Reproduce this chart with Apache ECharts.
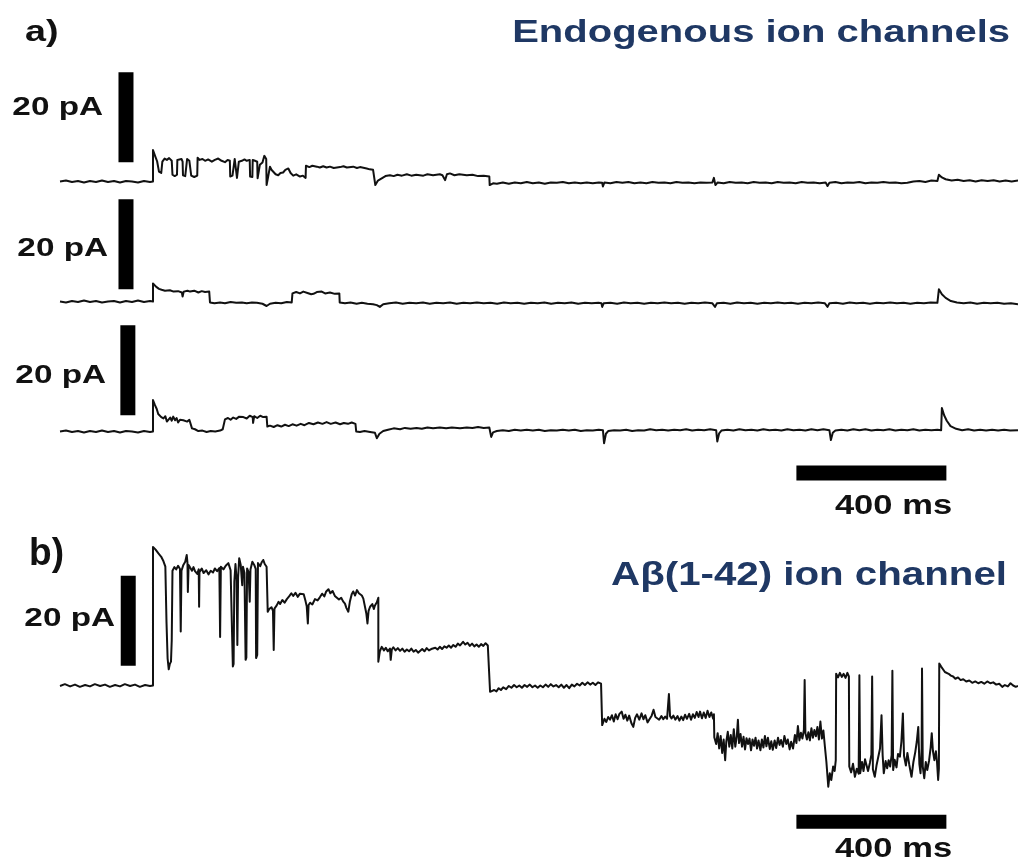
<!DOCTYPE html>
<html>
<head>
<meta charset="utf-8">
<title>Single channel recordings</title>
<script src="https://cdn.jsdelivr.net/npm/echarts@6/dist/echarts.min.js"></script>
<style>
  html, body { margin: 0; padding: 0; background: #fff; }
  #chart { width: 1018px; height: 867px; }
</style>
</head>
<body>
<div id="chart"></div>
<script>
// time in ms from start of sweep, current in pA above the closed level
// (a repeated time value is a step)
var traceA1 = [
    [0, 0], [16, 0.2], [32, -0.1], [48, 0.1], [64, -0.2], [80, 0.1], [96, -0.1], [112, 0.2], [128, -0.1], [144, 0.1],
    [160, -0.2], [176, 0.1], [192, 0], [208, -0.2], [224, 0.1], [240, -0.1], [248, 0],
    [248, 7.0], [254, 5.6], [259, 4.5], [262, 4.8], [264, 2.2], [270, 1.9], [272, 2.1], [273, 4.4], [279, 5.1], [285, 4.8],
    [291, 5.2], [298, 4.6], [300, 1.5], [306, 1.2], [312, 1.5], [313, 4.8], [318, 4.6], [324, 5.0], [327, 4.4], [328, 1.4],
    [334, 1.2], [338, 1.4], [339, 5.0], [345, 4.6], [349, 4.8], [350, 1.3], [358, 1.0], [366, 1.3], [367, 5.3], [372, 4.8],
    [380, 5.0], [387, 4.6], [395, 4.9], [405, 4.4], [413, 4.8], [422, 5.1], [431, 4.6], [440, 4.3], [447, 4.8], [453, 4.6],
    [454, 1.1], [460, 1.3], [465, 1.1], [466, 5.0], [471, 4.8], [472, 0.8], [476, 1.0], [477, 4.4], [485, 4.6], [492, 4.9],
    [498, 4.6], [506, 4.8], [507, 1.1], [513, 1.0], [514, 4.8], [520, 4.6], [526, 4.4], [527, 0.7], [531, 0.9], [533, 3.7],
    [540, 4.2], [545, 5.7], [550, 5.0], [551, -0.8], [555, 1.0], [560, 3.3], [564, 2.6], [569, 2.2], [575, 1.6], [582, 1.4],
    [588, 1.9], [595, 2.0], [601, 2.6], [609, 2.9], [615, 1.9], [622, 1.3], [630, 1.6], [640, 1.1], [648, 1.3], [655, 0.8],
    [656, 3.5], [665, 3.2], [673, 3.5], [685, 3.3], [693, 3.1], [702, 3.4], [711, 3.1], [720, 3.3], [730, 3.0], [747, 3.2],
    [756, 3.4], [765, 3.1], [782, 3.3], [792, 3.0], [800, 3.2], [818, 2.9], [826, 2.7], [835, 2.6], [840, 2.4], [841, -0.8],
    [848, 0.2], [858, 0.7], [868, 1.2], [880, 1.4], [890, 1.2], [900, 1.5], [912, 1.3], [925, 1.6], [937, 1.3], [950, 1.5],
    [969, 1.3], [980, 1.6], [995, 1.4], [1013, 1.6], [1020, 1.4], [1027, 0.3], [1032, 1.6], [1040, 1.8], [1052, 1.4],
    [1065, 1.6], [1085, 1.4], [1100, 1.5], [1115, 1.2], [1130, 1.3], [1145, 1.1], [1146, -0.8], [1155, -0.4], [1165, -0.5],
    [1181, -0.2], [1197, -0.5], [1213, -0.2], [1229, -0.4], [1245, -0.1], [1261, -0.4], [1277, -0.2], [1293, -0.5],
    [1309, -0.2], [1325, -0.3], [1341, -0.1], [1357, -0.4], [1373, -0.2], [1389, -0.4], [1405, -0.2], [1421, -0.4],
    [1437, -0.2], [1446, -0.3], [1448, -1.1], [1452, -0.2], [1468, -0.4], [1484, -0.1], [1500, -0.3], [1516, -0.1],
    [1532, -0.4], [1548, -0.2], [1564, -0.4], [1580, -0.1], [1596, -0.3], [1612, -0.2], [1628, -0.4], [1644, -0.1],
    [1660, -0.3], [1676, -0.2], [1692, -0.4], [1708, -0.2], [1724, -0.3], [1740, -0.2], [1744, 0.8], [1748, -0.8],
    [1754, -0.2], [1770, -0.4], [1786, -0.1], [1802, -0.3], [1818, -0.2], [1834, -0.4], [1850, -0.1], [1866, -0.3],
    [1882, -0.2], [1898, -0.4], [1914, -0.1], [1930, -0.3], [1946, -0.2], [1962, -0.4], [1978, -0.1], [1994, -0.3],
    [2010, -0.2], [2026, -0.4], [2042, -0.2], [2047, -1.0], [2052, -0.3], [2068, -0.1], [2084, -0.4], [2100, -0.2],
    [2116, -0.3], [2132, -0.1], [2148, -0.4], [2164, -0.2], [2180, -0.3], [2196, -0.1], [2212, -0.3], [2228, -0.2],
    [2244, -0.4], [2260, -0.3], [2276, 0.0], [2292, 0.1], [2308, -0.1], [2324, 0.2], [2340, 0.1], [2344, 1.5], [2352, 0.9],
    [2362, 0.5], [2378, 0.2], [2394, 0.4], [2410, 0.1], [2426, 0.3], [2442, 0.0], [2458, 0.3], [2474, 0.1], [2490, 0.3],
    [2506, 0.0], [2522, 0.2], [2538, 0.0], [2555, 0.2]
];

var traceA2 = [
    [0, 0], [16, -0.2], [32, 0.1], [48, -0.1], [64, 0.2], [80, -0.1], [96, 0.1], [112, -0.2], [128, 0], [144, 0.1],
    [160, -0.2], [176, 0.1], [192, -0.1], [208, 0.2], [224, -0.1], [240, 0.1], [248, 0],
    [248, 4.0], [256, 3.3], [264, 2.8], [271, 2.6], [280, 2.4], [293, 2.5], [303, 2.2], [315, 2.3], [325, 2.0], [327, 1.1],
    [330, 2.2], [340, 2.4], [347, 2.2], [358, 2.4], [369, 2.0], [378, 2.3], [387, 2.1], [398, 2.2], [400, -0.2], [412, -0.4],
    [427, -0.2], [440, -0.4], [455, -0.1], [470, -0.3], [485, -0.2], [498, -0.4], [512, -0.2], [525, -0.3], [540, -0.5],
    [551, -1.0], [560, -0.5], [575, -0.3], [590, -0.4], [605, -0.1], [618, -0.2], [620, 1.8], [630, 2.1], [640, 1.8],
    [649, 2.2], [660, 1.9], [670, 1.6], [676, 1.7], [685, 2.1], [698, 2.2], [707, 1.8], [720, 2.0], [733, 1.7], [745, 1.8],
    [746, -0.2], [760, -0.4], [775, -0.2], [791, -0.5], [805, -0.3], [820, -0.5], [835, -0.6], [845, -0.8], [853, -1.2],
    [862, -0.6], [878, -0.4], [896, -0.2], [914, -0.5], [932, -0.3], [950, -0.4], [968, -0.2], [986, -0.5], [1004, -0.3],
    [1022, -0.4], [1040, -0.2], [1058, -0.5], [1076, -0.3], [1094, -0.4], [1112, -0.2], [1130, -0.4], [1148, -0.3],
    [1166, -0.5], [1184, -0.2], [1202, -0.4], [1220, -0.3], [1238, -0.5], [1256, -0.3], [1274, -0.4], [1292, -0.2],
    [1310, -0.5], [1328, -0.3], [1346, -0.4], [1364, -0.2], [1382, -0.5], [1400, -0.3], [1418, -0.4], [1436, -0.3],
    [1444, -0.4], [1446, -1.2], [1450, -0.4], [1468, -0.3], [1486, -0.5], [1504, -0.2], [1522, -0.4], [1540, -0.3],
    [1558, -0.5], [1576, -0.3], [1594, -0.4], [1612, -0.2], [1630, -0.4], [1648, -0.3], [1666, -0.5], [1684, -0.3],
    [1702, -0.4], [1720, -0.2], [1740, -0.4], [1747, -1.2], [1752, -0.4], [1770, -0.3], [1788, -0.5], [1806, -0.2],
    [1824, -0.4], [1842, -0.3], [1860, -0.5], [1878, -0.3], [1896, -0.4], [1914, -0.2], [1932, -0.4], [1950, -0.3],
    [1968, -0.5], [1986, -0.3], [2004, -0.4], [2022, -0.2], [2040, -0.4], [2047, -1.2], [2052, -0.4], [2070, -0.3],
    [2088, -0.5], [2106, -0.2], [2124, -0.4], [2142, -0.3], [2160, -0.5], [2178, -0.3], [2196, -0.4], [2214, -0.2],
    [2232, -0.4], [2250, -0.3], [2268, -0.5], [2286, -0.3], [2304, -0.4], [2322, -0.2], [2340, -0.3], [2344, 2.7],
    [2352, 1.6], [2362, 0.8], [2376, 0.1], [2392, -0.2], [2410, -0.4], [2428, -0.2], [2446, -0.5], [2464, -0.3],
    [2482, -0.4], [2500, -0.3], [2518, -0.5], [2536, -0.4], [2555, -0.6]
];

var traceA3 = [
    [0, 0], [16, 0.2], [32, -0.1], [48, 0.1], [64, -0.2], [80, 0.1], [96, -0.1], [112, 0.2], [128, -0.1], [144, 0.1],
    [160, -0.2], [176, 0.1], [192, 0], [208, -0.2], [224, 0.1], [240, -0.1], [248, 0],
    [248, 7.0], [253, 5.9], [258, 5.0], [262, 3.9], [266, 3.9], [270, 3.2], [276, 2.9], [281, 3.4], [285, 2.2], [289, 2.6],
    [294, 3.1], [298, 2.4], [302, 3.3], [307, 2.5], [311, 3.0], [315, 2.0], [320, 2.6], [325, 3.0], [329, 2.5], [334, 2.9],
    [339, 2.2], [345, 2.6], [350, 2.4], [352, 0.7], [360, 0.5], [369, 0.1], [380, 0.2], [391, -0.1], [402, 0.1], [414, 0],
    [427, 0.2], [434, 0.5], [437, 0.7], [440, 2.7], [448, 3.0], [455, 2.6], [462, 3.1], [470, 2.8], [478, 3.3], [489, 3.2],
    [498, 2.9], [506, 3.5], [514, 3.2], [515, 1.9], [518, 3.4], [526, 3.0], [534, 3.5], [542, 3.2], [551, 3.3], [553, 1.1],
    [560, 1.3], [570, 1.0], [580, 1.4], [590, 1.1], [600, 1.5], [610, 1.2], [620, 1.6], [631, 1.3], [642, 1.7], [652, 1.4],
    [664, 1.9], [676, 1.6], [688, 2.0], [700, 1.7], [711, 2.1], [722, 1.7], [735, 2.0], [747, 1.6], [757, 1.9], [768, 1.7],
    [778, 2.0], [788, 1.7], [790, 0], [800, -0.1], [812, 0.1], [827, -0.1], [840, -0.3], [845, -1.5], [852, -0.5],
    [862, 0.1], [875, 0.4], [890, 0.7], [907, 0.5], [920, 0.8], [935, 0.6], [951, 0.8], [965, 0.6], [980, 0.9], [995, 0.7],
    [1013, 0.9], [1030, 0.7], [1045, 0.9], [1067, 0.7], [1085, 0.9], [1100, 0.8], [1115, 1.0], [1130, 0.8], [1145, 0.9],
    [1150, -1.2], [1155, -0.2], [1165, 0.1], [1181, 0.3], [1197, 0.1], [1213, 0.4], [1229, 0.2], [1245, 0.4], [1261, 0.2],
    [1277, 0.4], [1293, 0.1], [1309, 0.3], [1325, 0.2], [1341, 0.4], [1357, 0.2], [1373, 0.4], [1389, 0.1], [1405, 0.3],
    [1421, 0.2], [1437, 0.4], [1448, 0.3], [1451, -2.6], [1456, -0.5], [1462, 0.1], [1478, 0.3], [1494, 0.2], [1510, 0.4],
    [1526, 0.1], [1542, 0.3], [1558, 0.2], [1574, 0.5], [1590, 0.3], [1606, 0.4], [1622, 0.2], [1638, 0.4], [1654, 0.3],
    [1670, 0.5], [1686, 0.2], [1702, 0.4], [1718, 0.3], [1734, 0.5], [1750, 0.3], [1753, -2.2], [1758, -0.4], [1764, 0.2],
    [1780, 0.4], [1796, 0.2], [1812, 0.5], [1828, 0.3], [1844, 0.4], [1860, 0.2], [1876, 0.5], [1892, 0.3], [1908, 0.4],
    [1924, 0.2], [1940, 0.5], [1956, 0.3], [1972, 0.4], [1988, 0.2], [2004, 0.5], [2020, 0.3], [2036, 0.5], [2052, 0.3],
    [2056, -1.9], [2061, -0.3], [2068, 0.2], [2084, 0.4], [2100, 0.2], [2116, 0.5], [2132, 0.3], [2148, 0.5], [2164, 0.2],
    [2180, 0.4], [2196, 0.3], [2212, 0.5], [2228, 0.2], [2244, 0.4], [2260, 0.3], [2276, 0.5], [2292, 0.2], [2308, 0.4],
    [2324, 0.3], [2340, 0.4], [2350, 0.3], [2352, 5.2], [2358, 3.6], [2365, 2.4], [2375, 1.2], [2390, 0.6], [2406, 0.3],
    [2422, 0.5], [2438, 0.2], [2454, 0.4], [2470, 0.2], [2486, 0.4], [2502, 0.2], [2518, 0.4], [2534, 0.2], [2555, 0.3]
];

var traceB = [
    [0, -0.1], [13, 0.3], [27, -0.2], [40, 0.2], [53, -0.3], [67, 0.1], [80, -0.2], [93, 0.3], [107, -0.1], [120, 0.2],
    [133, -0.3], [147, 0.1], [160, -0.2], [173, 0.3], [187, -0.1], [200, 0.2], [213, -0.3], [227, 0.1], [240, -0.1], [248, 0],
    [248, 30.8], [255, 30.2], [262, 29.4], [270, 28.6], [276, 27.6], [281, 26.4], [284, 14.2], [287, 6.0], [290, 3.6],
    [293, 4.8], [296, 5.3], [298, 10.0], [300, 25.5], [305, 26.3], [310, 25.8], [315, 26.6], [320, 25.9], [322, 12.0],
    [324, 25.5], [329, 26.8], [334, 27.5], [338, 29.0], [340, 27.2], [341, 20.8], [343, 26.8], [347, 26.2], [352, 25.5],
    [356, 26.3], [360, 25.4], [366, 24.8], [370, 25.8], [371, 17.5], [372, 25.2], [378, 26.0], [383, 25.0], [390, 25.6],
    [396, 24.7], [402, 25.5], [408, 25.1], [413, 26.0], [419, 25.4], [425, 26.1], [427, 10.8], [429, 26.4], [436, 25.8],
    [442, 26.6], [449, 27.2], [455, 25.6], [458, 25.3], [461, 4.2], [463, 4.8], [465, 23.1], [468, 27.0], [471, 23.5],
    [473, 9.0], [475, 24.0], [478, 28.3], [482, 26.8], [486, 22.3], [488, 26.4], [492, 25.0], [495, 5.7], [497, 6.2],
    [499, 26.0], [503, 25.2], [506, 18.6], [508, 25.8], [513, 27.5], [518, 26.8], [522, 25.9], [523, 6.1], [526, 6.8],
    [528, 27.2], [534, 26.5], [538, 27.4], [542, 27.9], [546, 27.0], [551, 26.4], [553, 26.8], [554, 16.4], [558, 17.0],
    [564, 17.4], [568, 16.6], [570, 7.9], [572, 17.1], [578, 17.8], [583, 18.6], [587, 18.1], [593, 19.0], [599, 18.4],
    [605, 19.2], [611, 19.8], [617, 20.5], [622, 19.9], [628, 20.6], [634, 19.7], [640, 20.4], [645, 20.0], [650, 20.3],
    [655, 18.7], [658, 17.6], [661, 13.8], [663, 17.9], [667, 18.4], [673, 18.0], [680, 19.2], [687, 18.9], [693, 19.6],
    [699, 20.4], [705, 19.8], [710, 20.9], [716, 21.4], [721, 20.5], [727, 21.0], [733, 19.9], [738, 20.0], [744, 19.1],
    [750, 19.5], [755, 18.7], [760, 18.2], [764, 17.2], [769, 16.4], [773, 18.6], [778, 20.3], [782, 20.9], [787, 20.0],
    [792, 21.2], [797, 20.5], [800, 20.9], [805, 20.0], [809, 19.3], [813, 19.0], [817, 16.0], [820, 13.8], [823, 16.6],
    [827, 17.5], [833, 18.1], [837, 17.0], [840, 17.8], [845, 18.5], [849, 19.5], [849, 5.3], [853, 7.6], [858, 8.6],
    [864, 7.8], [869, 8.4], [874, 7.6], [880, 8.2], [882, 5.7], [885, 8.0], [889, 8.5], [895, 7.8], [901, 8.3], [907, 7.7],
    [913, 8.2], [919, 7.5], [925, 8.0], [931, 7.6], [937, 8.2], [943, 7.5], [949, 7.9], [955, 7.3], [960, 7.7], [966, 8.1],
    [972, 7.6], [978, 8.3], [984, 7.8], [990, 8.1], [995, 7.7], [1001, 8.4], [1007, 8.0], [1013, 8.6], [1019, 8.1],
    [1025, 8.7], [1031, 8.4], [1037, 8.9], [1043, 8.4], [1049, 9.0], [1055, 8.6], [1061, 9.3], [1067, 8.9], [1075, 9.7],
    [1081, 9.1], [1087, 9.5], [1093, 8.8], [1099, 9.3], [1105, 8.7], [1111, 9.1], [1117, 8.6], [1123, 9.2], [1129, 8.8],
    [1135, 9.4], [1141, 8.9], [1145, 9.3], [1147, -1.4], [1152, -1.7], [1158, -1.0], [1164, -1.3], [1170, -0.6],
    [1176, -1.0], [1182, -0.4], [1190, -0.8], [1197, -0.1], [1204, -0.5], [1211, 0.1], [1218, -0.4], [1225, 0.0],
    [1232, -0.5], [1239, 0.1], [1246, -0.3], [1253, 0.2], [1260, -0.4], [1267, 0.0], [1274, -0.5], [1281, 0.0],
    [1288, -0.4], [1295, 0.2], [1302, -0.3], [1309, 0.3], [1316, -0.2], [1323, 0.1], [1330, -0.4], [1337, 0.2],
    [1344, -0.5], [1351, 0.1], [1358, -0.6], [1365, 0.2], [1372, -0.2], [1379, 0.4], [1386, 0.0], [1393, 0.6], [1400, 0.1],
    [1407, 0.7], [1414, 0.2], [1421, 0.6], [1428, 0.1], [1435, 0.7], [1443, 0.4], [1446, 0.5], [1446, -8.8], [1452, -7.4],
    [1457, -8.1], [1462, -7.0], [1467, -7.6], [1472, -6.6], [1477, -8.0], [1482, -6.4], [1487, -7.5], [1492, -6.3],
    [1498, -5.8], [1503, -7.4], [1508, -6.5], [1513, -7.8], [1518, -6.7], [1524, -8.4], [1529, -9.2], [1534, -7.2],
    [1539, -6.4], [1545, -7.6], [1551, -6.2], [1556, -7.5], [1561, -6.6], [1567, -8.2], [1573, -7.4], [1578, -6.7],
    [1583, -5.4], [1588, -7.0], [1593, -6.6], [1598, -7.6], [1604, -6.8], [1609, -7.5], [1614, -6.9], [1619, -7.4],
    [1624, -1.9], [1627, -6.8], [1631, -7.3], [1636, -6.7], [1641, -7.6], [1647, -6.8], [1652, -7.8], [1657, -6.9],
    [1662, -7.7], [1667, -6.5], [1672, -7.4], [1678, -6.3], [1683, -7.6], [1688, -6.4], [1693, -7.2], [1698, -5.9],
    [1703, -7.0], [1707, -5.8], [1712, -7.3], [1717, -6.0], [1722, -7.2], [1727, -5.6], [1732, -7.0], [1737, -6.0],
    [1742, -7.4], [1744, -6.4], [1745, -11.5], [1750, -13.0], [1754, -10.6], [1758, -14.0], [1762, -11.2], [1766, -15.0],
    [1770, -12.0], [1774, -16.6], [1777, -12.5], [1781, -10.3], [1785, -13.6], [1789, -11.0], [1793, -14.0], [1797, -9.7],
    [1801, -13.6], [1805, -11.3], [1808, -7.6], [1811, -12.8], [1815, -10.8], [1819, -13.6], [1823, -11.4], [1827, -14.2],
    [1831, -11.7], [1835, -13.0], [1839, -11.8], [1843, -14.4], [1847, -12.0], [1851, -13.4], [1855, -11.6], [1859, -14.0],
    [1863, -12.2], [1868, -14.4], [1872, -12.0], [1876, -13.8], [1880, -11.2], [1884, -13.5], [1888, -11.6], [1893, -14.1],
    [1897, -12.4], [1901, -14.3], [1906, -12.2], [1910, -13.9], [1915, -11.6], [1919, -13.2], [1923, -12.1], [1928, -13.6],
    [1932, -11.2], [1937, -13.0], [1941, -12.0], [1946, -14.2], [1950, -12.5], [1955, -14.0], [1960, -11.0], [1964, -12.8],
    [1968, -9.0], [1972, -12.2], [1976, -10.5], [1980, -11.8], [1984, -9.8], [1986, 1.2], [1988, -10.6], [1992, -12.0],
    [1996, -10.4], [2000, -12.2], [2004, -9.5], [2008, -11.6], [2012, -9.9], [2016, -11.3], [2020, -9.2], [2024, -12.0],
    [2028, -8.0], [2032, -11.8], [2036, -10.0], [2040, -13.6], [2044, -17.0], [2049, -22.5], [2053, -19.5], [2057, -21.0],
    [2062, -18.0], [2066, -19.0], [2069, -16.6], [2070, 2.6], [2075, 1.8], [2080, 2.8], [2085, 1.9], [2090, 2.6],
    [2095, 1.7], [2100, 2.8], [2104, 2.0], [2105, -18.0], [2110, -19.3], [2115, -17.4], [2120, -20.3], [2125, -18.5],
    [2130, -19.6], [2132, 2.3], [2134, -19.5], [2139, -17.0], [2143, -19.0], [2147, -16.4], [2151, -17.7], [2155, -19.0],
    [2160, -17.2], [2164, -15.4], [2166, 2.0], [2168, -18.6], [2173, -20.3], [2178, -17.6], [2183, -18.0], [2187, -14.0],
    [2191, -6.6], [2194, -15.5], [2197, -19.5], [2202, -16.8], [2206, -18.4], [2210, -16.6], [2214, -18.0], [2218, -15.5],
    [2220, 3.3], [2222, -18.8], [2226, -16.5], [2231, -18.2], [2235, -15.2], [2240, -15.8], [2244, -12.5], [2248, -6.2],
    [2251, -15.6], [2256, -17.8], [2260, -15.0], [2265, -17.6], [2271, -20.3], [2276, -17.0], [2281, -14.8], [2285, -12.5],
    [2289, -9.2], [2292, -17.5], [2295, -19.5], [2298, -14.0], [2299, 3.8], [2301, -18.0], [2305, -20.6], [2309, -17.0],
    [2313, -18.8], [2318, -16.6], [2322, -13.8], [2325, -10.6], [2328, -14.5], [2332, -16.6], [2336, -14.6], [2339, -17.0],
    [2342, -21.0], [2344, -18.5], [2345, 4.9], [2350, 4.2], [2355, 3.9], [2360, 3.0], [2364, 3.4], [2370, 2.6], [2376, 2.2],
    [2382, 2.0], [2388, 1.5], [2395, 1.8], [2402, 1.2], [2409, 1.4], [2417, 0.9], [2425, 1.1], [2433, 0.6], [2441, 0.9],
    [2449, 0.5], [2457, 0.8], [2465, 0.4], [2473, 0.9], [2481, 0.5], [2489, 0.7], [2497, 0.2], [2505, 0.4], [2513, -0.3],
    [2520, 0.1], [2528, -0.2], [2535, 0.5], [2542, 0.0], [2549, -0.3], [2555, -0.1]
];

var scaleBarPA = 20;
var scaleBarMs = 400;
var scaleLabelPA = '20 pA';
var scaleLabelMs = '400 ms';
var titleA = 'Endogenous ion channels';
var titleB = 'Aβ(1-42) ion channel';

var myChart = echarts.init(document.getElementById('chart'));

// one grid per sweep, same time axis; 4.5 px per pA everywhere
var grids = [
    { left: 0, width: 1018, top: 64.5, height: 171 },
    { left: 0, width: 1018, top: 184.5, height: 171 },
    { left: 0, width: 1018, top: 314.5, height: 171 },
    { left: 0, width: 1018, top: 532.5, height: 297 }
];
var yRanges = [[-12, 26], [-12, 26], [-12, 26], [-32, 34]];

var xAxes = [], yAxes = [];
for (var i = 0; i < grids.length; i++) {
    xAxes.push({ type: 'value', gridIndex: i, min: -160, max: 2555, show: false });
    yAxes.push({ type: 'value', gridIndex: i, min: yRanges[i][0], max: yRanges[i][1], show: false });
}

function traceSeries(data, gi) {
    return {
        type: 'line', data: data, xAxisIndex: gi, yAxisIndex: gi,
        symbol: 'none', showSymbol: false, clip: false, silent: true,
        lineStyle: { color: '#111', width: 2, join: 'round' }
    };
}

function barSeries(points, gi, w) {
    return {
        type: 'line', data: points, xAxisIndex: gi, yAxisIndex: gi,
        symbol: 'none', showSymbol: false, clip: false, silent: true,
        lineStyle: { color: '#000', width: w, cap: 'butt' }
    };
}

function label(text, x, y, size, align, sx, color) {
    return {
        type: 'text', x: x, y: y, scaleX: sx, silent: true,
        style: {
            text: text, fill: color || '#111',
            font: 'bold ' + size + 'px "Liberation Sans", Arial, sans-serif',
            textAlign: align, align: align,
            textVerticalAlign: 'middle', verticalAlign: 'middle'
        }
    };
}

var navy = '#1f3864';

option = {
    animation: false,
    backgroundColor: '#fff',
    grid: grids,
    xAxis: xAxes,
    yAxis: yAxes,
    series: [
        traceSeries(traceA1, 0),
        traceSeries(traceA2, 1),
        traceSeries(traceA3, 2),
        traceSeries(traceB, 3),
        // 20 pA bars
        barSeries([[176, 4.3], [176, 4.3 + scaleBarPA]], 0, 15),
        barSeries([[176, 2.7], [176, 2.7 + scaleBarPA]], 1, 15),
        barSeries([[181, 3.6], [181, 3.6 + scaleBarPA]], 2, 15),
        barSeries([[182, 4.4], [182, 4.4 + scaleBarPA]], 3, 15),
        // 400 ms bars
        barSeries([[1964, -9.2], [1964 + scaleBarMs, -9.2]], 2, 15),
        barSeries([[1964, -30.3], [1964 + scaleBarMs, -30.3]], 3, 14)
    ],
    graphic: [
        label('a)', 25, 33, 29, 'left', 1.3),
        label('b)', 29, 554, 39, 'left', 0.95),
        label(titleA, 1010, 33.5, 32, 'right', 1.25, navy),
        label(titleB, 1007, 575.5, 33, 'right', 1.22, navy),
        label(scaleLabelPA, 103, 107.5, 26, 'right', 1.28),
        label(scaleLabelPA, 108, 249, 26, 'right', 1.28),
        label(scaleLabelPA, 106, 376, 26, 'right', 1.28),
        label(scaleLabelPA, 115, 619, 26, 'right', 1.28),
        label(scaleLabelMs, 893.5, 507, 27, 'center', 1.28),
        label(scaleLabelMs, 893.5, 850, 27, 'center', 1.28)
    ]
};

myChart.setOption(option);
</script>
</body>
</html>
